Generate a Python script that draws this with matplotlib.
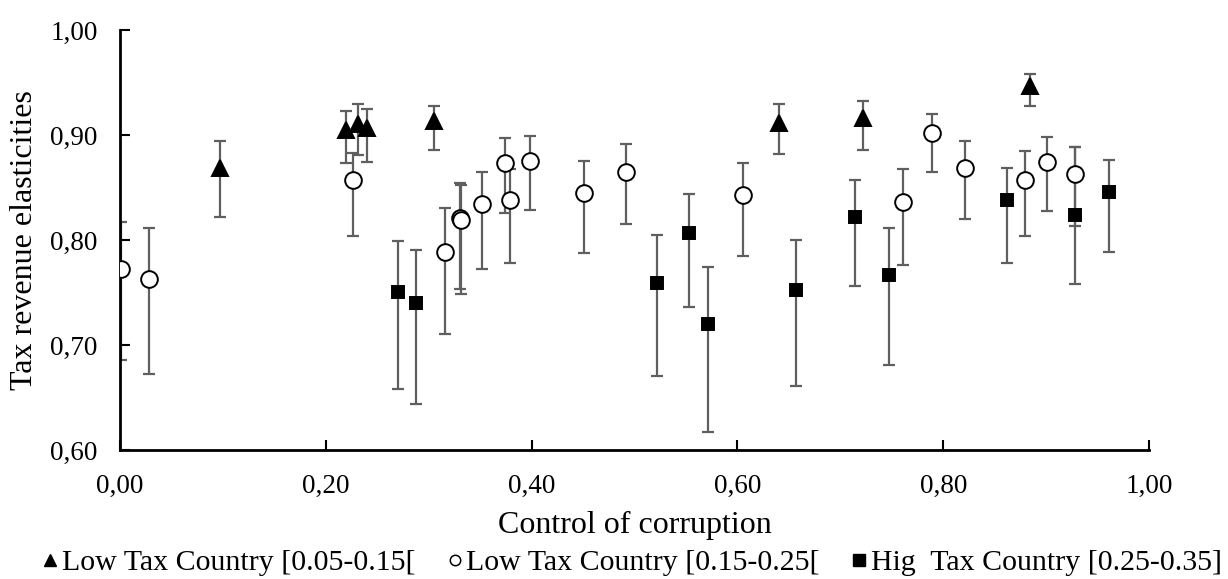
import matplotlib
matplotlib.use("Agg")
import matplotlib.pyplot as plt
from matplotlib.lines import Line2D
import numpy as np

plt.rcParams["font.family"] = ["Liberation Serif", "DejaVu Serif"]

# Low Tax Country [0.05-0.15[  (triangles)
tri_x = [0.097, 0.220, 0.231, 0.240, 0.305, 0.640, 0.722, 0.884]
tri_y = [0.869, 0.905, 0.910, 0.907, 0.913, 0.911, 0.916, 0.947]
tri_lo = [0.822, 0.873, 0.881, 0.874, 0.886, 0.882, 0.886, 0.928]
tri_hi = [0.894, 0.923, 0.929, 0.925, 0.928, 0.929, 0.932, 0.958]

# Low Tax Country [0.15-0.25[  (open circles)
circ_x = [0.001, 0.028, 0.226, 0.316, 0.330, 0.331, 0.352, 0.374, 0.379, 0.398,
          0.451, 0.492, 0.605, 0.761, 0.789, 0.821, 0.879, 0.901, 0.928]
circ_y = [0.772, 0.763, 0.857, 0.789, 0.821, 0.819, 0.834, 0.873, 0.838, 0.875,
          0.845, 0.865, 0.843, 0.836, 0.902, 0.869, 0.857, 0.874, 0.863]
circ_lo = [0.686, 0.672, 0.804, 0.710, 0.753, 0.749, 0.772, 0.826, 0.778, 0.829,
           0.788, 0.815, 0.785, 0.776, 0.865, 0.820, 0.804, 0.828, 0.813]
circ_hi = [0.817, 0.811, 0.883, 0.830, 0.854, 0.852, 0.865, 0.897, 0.868, 0.899,
           0.875, 0.891, 0.873, 0.868, 0.920, 0.894, 0.885, 0.898, 0.889]

# Hig Tax Country [0.25-0.35]  (filled squares)
sq_x = [0.270, 0.288, 0.522, 0.553, 0.571, 0.657, 0.714, 0.747, 0.862, 0.928, 0.961]
sq_y = [0.750, 0.740, 0.759, 0.807, 0.720, 0.752, 0.822, 0.767, 0.838, 0.824, 0.846]
sq_lo = [0.658, 0.644, 0.670, 0.736, 0.617, 0.661, 0.756, 0.681, 0.778, 0.758, 0.789]
sq_hi = [0.799, 0.790, 0.805, 0.844, 0.774, 0.800, 0.857, 0.811, 0.869, 0.889, 0.876]

y_ticks = [0.60, 0.70, 0.80, 0.90, 1.00]
x_ticks = [0.00, 0.20, 0.40, 0.60, 0.80, 1.00]

labels = ["Low Tax Country [0.05-0.15[",
          "Low Tax Country [0.15-0.25[",
          "Hig  Tax Country [0.25-0.35]"]

BAR_COLOR = "#5f5f5f"


def draw_series(ax, x, y, lo, hi, marker, ms, face):
    y = np.array(y)
    yerr = [y - np.array(lo), np.array(hi) - y]
    ax.errorbar(x, y, yerr=yerr, fmt="none", ecolor=BAR_COLOR, elinewidth=1.6,
                capsize=4, capthick=1.6, zorder=2)
    ax.plot(x, y, linestyle="none", marker=marker, markersize=ms,
            markerfacecolor=face, markeredgecolor="black", markeredgewidth=1.4,
            zorder=3)


fig = plt.figure(figsize=(12.28, 5.79), dpi=100)
ax = fig.add_axes([0.0977, 0.2228, 0.838, 0.7255])

draw_series(ax, tri_x, tri_y, tri_lo, tri_hi, "^", 11, "black")
draw_series(ax, circ_x, circ_y, circ_lo, circ_hi, "o", 12, "white")
draw_series(ax, sq_x, sq_y, sq_lo, sq_hi, "s", 9, "black")

ax.set_xlim(0, 1.0)
ax.set_ylim(0.60, 1.00)
ax.set_xticks(x_ticks)
ax.set_yticks(y_ticks)
ax.set_xticklabels([f"{v:.2f}".replace(".", ",") for v in x_ticks])
ax.set_yticklabels([f"{v:.2f}".replace(".", ",") for v in y_ticks])
ax.tick_params(axis="x", direction="in", length=7, width=1.5, labelsize=19.5, pad=17)
ax.tick_params(axis="y", direction="in", length=7, width=1.5, labelsize=19.5, pad=16)

for side in ["top", "right"]:
    ax.spines[side].set_visible(False)
for side in ["left", "bottom"]:
    ax.spines[side].set_linewidth(2)
    ax.spines[side].set_color("black")

ax.set_xlabel("Control of corruption", fontsize=23, labelpad=9)
ax.set_ylabel("Tax revenue elasticities", fontsize=23, labelpad=8)

handles = [
    Line2D([], [], linestyle="none", marker="^", markersize=9, color="black"),
    Line2D([], [], linestyle="none", marker="o", markersize=7.5,
           markerfacecolor="white", markeredgecolor="black", markeredgewidth=1.1),
    Line2D([], [], linestyle="none", marker="s", markersize=8.5, color="black"),
]
fig.legend(handles, labels, loc="center", bbox_to_anchor=(0.5155, 0.0276),
           ncol=3, frameon=False, fontsize=21.5, handlelength=0.4,
           handletextpad=0.2, columnspacing=1.1, borderpad=0)

fig.savefig("out.png", dpi=100)
